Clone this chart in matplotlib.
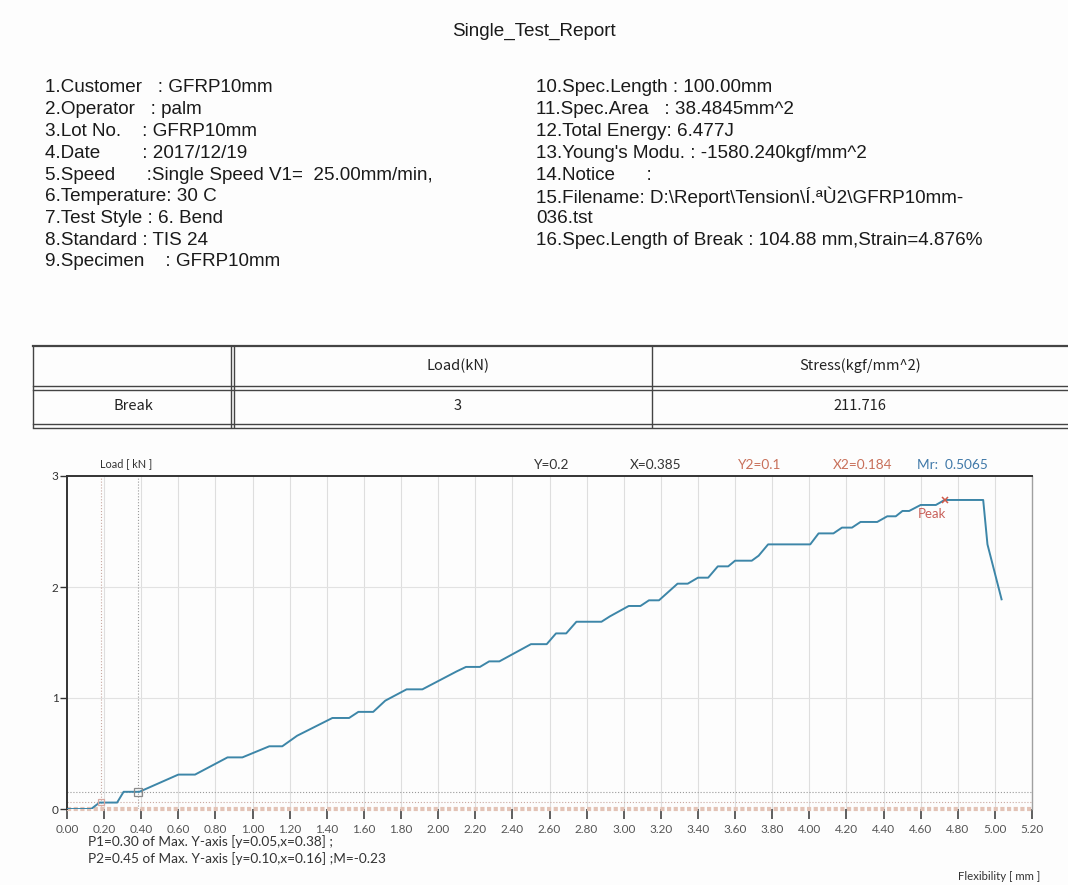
import matplotlib
matplotlib.use("Agg")
import matplotlib.pyplot as plt

# report header
title = "Single_Test_Report"
left_info = [
    "1.Customer   : GFRP10mm",
    "2.Operator   : palm",
    "3.Lot No.    : GFRP10mm",
    "4.Date        : 2017/12/19",
    "5.Speed      :Single Speed V1=  25.00mm/min,",
    "6.Temperature: 30 C",
    "7.Test Style : 6. Bend",
    "8.Standard : TIS 24",
    "9.Specimen    : GFRP10mm",
]
right_info = [
    "10.Spec.Length : 100.00mm",
    "11.Spec.Area   : 38.4845mm^2",
    "12.Total Energy: 6.477J",
    "13.Young's Modu. : -1580.240kgf/mm^2",
    "14.Notice      :",
    "15.Filename: D:\\Report\\Tension\\Í.ªÙ2\\GFRP10mm-",
    "036.tst",
    "16.Spec.Length of Break : 104.88 mm,Strain=4.876%",
]

# result table
table_cols = ["", "Load(kN)", "Stress(kgf/mm^2)"]
table_row = ["Break", "3", "211.716"]

# load - flexibility curve
flex = [0.00, 0.13, 0.175, 0.27, 0.305, 0.39, 0.60, 0.69, 0.865, 0.945,
        1.09, 1.16, 1.24, 1.43, 1.52, 1.57, 1.65, 1.715, 1.83, 1.915,
        2.10, 2.15, 2.225, 2.275, 2.33, 2.50, 2.585, 2.635, 2.69, 2.745,
        2.88, 2.925, 3.027, 3.09, 3.136, 3.19, 3.29, 3.345, 3.40, 3.455,
        3.507, 3.563, 3.60, 3.69, 3.727, 3.778, 4.005, 4.05, 4.13, 4.176,
        4.23, 4.276, 4.366, 4.42, 4.466, 4.502, 4.538, 4.60, 4.682, 4.729,
        4.937, 4.96, 5.036]
load = [0.0, 0.0, 0.058, 0.058, 0.155, 0.155, 0.31, 0.31, 0.465, 0.465,
        0.565, 0.565, 0.66, 0.82, 0.82, 0.875, 0.875, 0.976, 1.078, 1.078,
        1.24, 1.28, 1.28, 1.33, 1.33, 1.485, 1.485, 1.582, 1.582, 1.687,
        1.687, 1.735, 1.829, 1.829, 1.88, 1.88, 2.03, 2.03, 2.084, 2.084,
        2.186, 2.186, 2.237, 2.237, 2.282, 2.384, 2.384, 2.483, 2.483, 2.535,
        2.535, 2.586, 2.586, 2.637, 2.637, 2.685, 2.685, 2.739, 2.739, 2.784,
        2.784, 2.384, 1.889]
peak = (4.729, 2.784)
p1 = (0.385, 0.155)
p2 = (0.184, 0.06)

header_items = [("Y=0.2", "#333333"), ("X=0.385", "#333333"),
                ("Y2=0.1", "#c8705a"), ("X2=0.184", "#c8705a"),
                ("Mr:  0.5065", "#3f78a8")]
notes = ["P1=0.30 of Max. Y-axis [y=0.05,x=0.38] ;",
         "P2=0.45 of Max. Y-axis [y=0.10,x=0.16] ;M=-0.23"]
xticks = [i * 0.2 for i in range(27)]

W, H = 1068, 885
fig = plt.figure(figsize=(W / 100, H / 100), dpi=100, facecolor="#fdfdfd")

# page layer in pixel coords
page = fig.add_axes([0, 0, 1, 1])
page.set_xlim(0, W)
page.set_ylim(H, 0)
page.axis("off")

txt = dict(family=["Liberation Sans", "DejaVu Sans"], fontsize=13.6, color="#1a1a1a", va="center")
page.text(534, 31, title, ha="center", **txt)
for i, s in enumerate(left_info):
    page.text(45, 88 + 21.75 * i, s, ha="left", **txt)
for i, s in enumerate(right_info):
    page.text(536, 88 + 21.75 * i, s, ha="left", **txt)

# table
lc = "#444444"
page.plot([33, W], [346, 346], color=lc, lw=1.6)
page.plot([33, W], [386, 386], color=lc, lw=1.0)
page.plot([33, W], [389.5, 389.5], color=lc, lw=1.0)
page.plot([33, W], [424, 424], color=lc, lw=1.0)
page.plot([33, W], [427.5, 427.5], color=lc, lw=1.0)
page.plot([33, 33], [346, 427], color=lc, lw=1.0)
page.plot([230.5, 230.5], [346, 427], color=lc, lw=1.0)
page.plot([233.5, 233.5], [346, 427], color=lc, lw=1.0)
page.plot([652, 652], [346, 427], color=lc, lw=1.0)
tfont = dict(family=["Noto Sans CJK SC", "DejaVu Sans"], fontsize=10.5, color="#222222",
             ha="center", va="center")
col_x = [133, 458, 860]
for cx, s in zip(col_x, table_cols):
    page.text(cx, 366, s, **tfont)
for cx, s in zip(col_x, table_row):
    page.text(cx, 406, s, **tfont)

# chart
x0, x1, yt, yb = 67, 1032, 476, 809
ax = fig.add_axes([x0 / W, 1 - yb / H, (x1 - x0) / W, (yb - yt) / H])
ax.set_facecolor("none")
ax.set_xlim(0, 5.2)
ax.set_ylim(0, 3)

for xv in xticks[1:-1]:
    ax.axvline(xv, color="#dedede", lw=0.8, zorder=1)
for yv in [1, 2]:
    ax.axhline(yv, color="#e2e2e2", lw=0.8, zorder=1)

# reference markers
ax.axvline(p1[0], color="#9a9a9a", lw=0.8, ls=":", zorder=2)
ax.axvline(p2[0], color="#c8a8a0", lw=0.8, ls=":", zorder=2)
ax.axhline(p1[1], color="#9a9a9a", lw=0.8, ls=":", zorder=2)
ax.axhline(p2[1], color="#c8a8a0", lw=0.8, ls=":", zorder=2)
ax.axhline(0, color="#e3c3b6", lw=3, ls=(0, (1, 0.6)), zorder=2, clip_on=False)

ax.plot(flex, load, color="#3d86a8", lw=1.4, zorder=4)
ax.plot(*p1, marker="s", ms=6, mfc="none", mec="#8a8a8a", mew=0.9, zorder=5)
ax.plot(*p2, marker="s", ms=5, mfc="none", mec="#d8a8a0", mew=0.9, zorder=5)
ax.plot(*peak, marker="x", ms=5, color="#d05a4a", mew=1.1, zorder=5)
ax.text(peak[0] - 0.07, peak[1] - 0.13, "Peak", color="#c8605a", fontsize=9.5,
        family="Lato", ha="center", va="center")

for s in ["left", "top"]:
    ax.spines[s].set_color("#333333")
    ax.spines[s].set_linewidth(1.4)
ax.spines["right"].set_color("#a0a0a0")
ax.spines["right"].set_linewidth(1.0)
ax.spines["bottom"].set_visible(False)

ax.set_yticks([0, 1, 2, 3])
ax.set_yticklabels(["0", "1", "2", "3"])
ax.set_xticks(xticks)
ax.set_xticklabels([f"{v:.2f}" for v in xticks])
ax.tick_params(axis="y", length=5, width=1, color="#333333", labelsize=8.5,
               labelcolor="#333333", pad=1)
ax.tick_params(axis="x", length=7, width=1.2, color="#444444", labelsize=8.5,
               labelcolor="#555555", pad=4)
for lab in ax.get_xticklabels() + ax.get_yticklabels():
    lab.set_family("Lato")

page.text(100, 464, "Load [ kN ]", fontsize=7.8, color="#333333", family="Lato", va="center")
hx = [534, 630, 738, 833, 917]
for (s, c), px in zip(header_items, hx):
    page.text(px, 465, s, fontsize=9.8, color=c, family="Lato", va="center")
for i, s in enumerate(notes):
    page.text(88, 842 + 16.5 * i, s, fontsize=9.8, color="#333333", family="Lato", va="center")
page.text(1040, 876, "Flexibility [ mm ]", fontsize=8.2, color="#333333", family="Lato",
          ha="right", va="center")

fig.savefig("out.png", dpi=100, facecolor=fig.get_facecolor())
